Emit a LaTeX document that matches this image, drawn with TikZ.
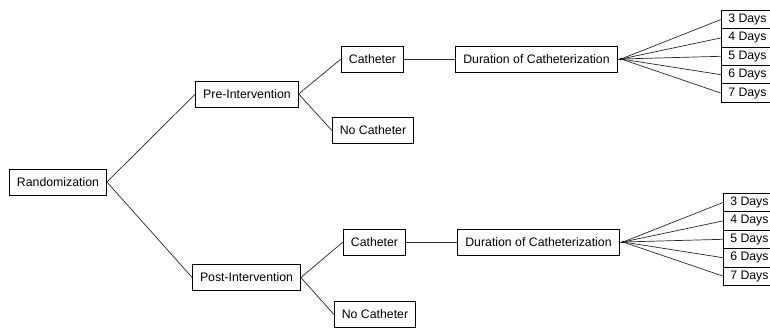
\documentclass[tikz,border=0pt]{standalone}
\usepackage{fontspec}
\setmainfont{Liberation Sans}

\begin{document}
\begin{tikzpicture}[x=1pt,y=-1pt,
  box/.style={draw,line width=0.8pt,inner xsep=7.5pt,inner ysep=0pt,
    minimum height=26pt,font=\fontsize{12.3}{14}\selectfont},
  daybox/.style={draw,line width=0.8pt,anchor=west,inner sep=0pt,
    minimum width=52pt,minimum height=18.4pt,font=\fontsize{12.3}{14}\selectfont},
  link/.style={line width=0.7pt,black!85}]
\useasboundingbox (0,0) rectangle (770,331);
\clip (0,0) rectangle (770,331);

\node[box] (rand) at (58,182) {Randomization};
% upper branch
\node[box] (pre) at (247,94) {Pre-Intervention};
\node[box] (cathA) at (372.5,59) {Catheter};
\node[box] (nocathA) at (373,130.5) {No Catheter};
\node[box] (durA) at (536.5,59) {Duration of Catheterization};
\coordinate (fanA) at (621,59);
% lower branch
\node[box] (post) at (246.5,277.5) {Post-Intervention};
\node[box] (cathB) at (374.5,242) {Catheter};
\node[box] (nocathB) at (375,314.5) {No Catheter};
\node[box] (durB) at (538.5,242) {Duration of Catheterization};
\coordinate (fanB) at (623,242);

\foreach \d [count=\i from 0] in {3,...,7} {
  \node[daybox] (dayA\d) at (721,19.5+18.4*\i) {\d\ Days};
  \node[daybox] (dayB\d) at (723,202.5+18.4*\i) {\d\ Days};
  \draw[link] (fanA) -- (dayA\d.west);
  \draw[link] (fanB) -- (dayB\d.west);
}

\draw[link] (rand.east) -- (pre.west);
\draw[link] (rand.east) -- (post.west);
\draw[link] (pre.east) -- (cathA.west);
\draw[link] (pre.east) -- (nocathA.west);
\draw[link] (post.east) -- (cathB.west);
\draw[link] (post.east) -- (nocathB.west);
\draw[link] (cathA) -- (durA);
\draw[link] (cathB) -- (durB);
\draw[link] (durA.east) -- (fanA);
\draw[link] (durB.east) -- (fanB);
\fill (fanA) circle (1.3pt);
\fill (fanB) circle (1.3pt);
\end{tikzpicture}
\end{document}
